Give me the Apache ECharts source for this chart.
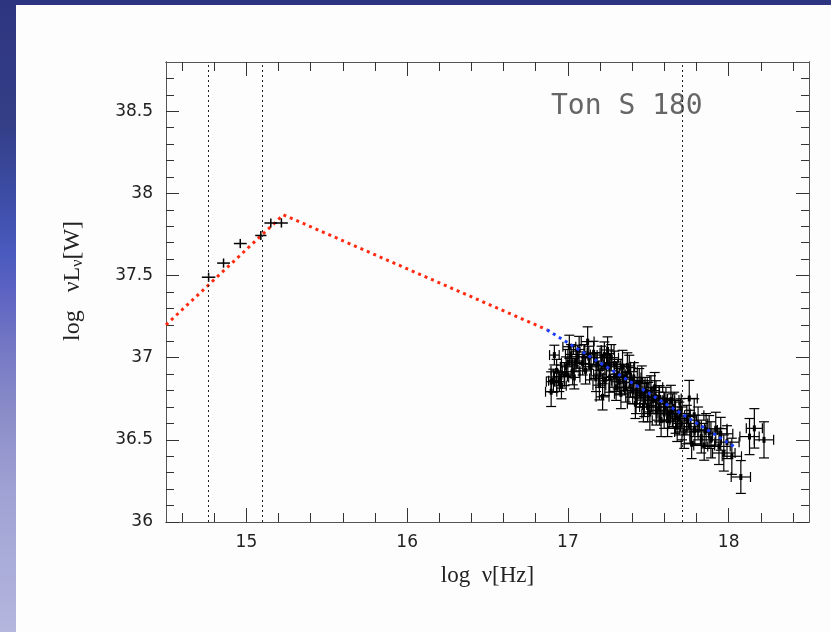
<!DOCTYPE html>
<html>
<head>
<meta charset="utf-8">
<script src="https://cdn.jsdelivr.net/npm/echarts@6/dist/echarts.min.js"></script>
<style>
html,body{margin:0;padding:0;width:831px;height:632px;overflow:hidden;background:#fdfdfd;}
#topbar{position:absolute;left:0;top:0;width:831px;height:5px;background:#2e3580;}
#leftbar{position:absolute;left:0;top:0;width:16px;height:632px;
background:linear-gradient(to bottom,#2e3580 0%,#343f88 20%,#3e4ea8 32%,#4a5abe 40%,#5c63c2 46%,#7478c4 55%,#8a8cc8 65%,#a0a2d4 78%,#b4b6de 100%);}
#chart{position:absolute;left:0;top:0;width:831px;height:632px;}
</style>
</head>
<body>
<div id="topbar"></div>
<div id="leftbar"></div>
<div id="chart"></div>
<script>
// ---- tick values ----
const xMajorTicks = [15, 16, 17, 18];
const xMinorTicks = [14.6, 14.8, 15.2, 15.4, 15.6, 15.8, 16.2, 16.4, 16.6, 16.8, 17.2, 17.4, 17.6, 17.8, 18.2, 18.4];
const yMajorTicks = [36, 36.5, 37, 37.5, 38, 38.5];
const yMinorTicks = [36.1, 36.2, 36.3, 36.4, 36.6, 36.7, 36.8, 36.9, 37.1, 37.2, 37.3, 37.4, 37.6, 37.7, 37.8, 37.9, 38.1, 38.2, 38.3, 38.4, 38.6, 38.7];

// ---- vertical reference lines ----
const vLines = [14.76, 15.1, 17.71];

// ---- model lines ----
const redX = [14.5, 15.23, 16.87];
const redY = [37.2, 37.87, 37.17];
const blueX = [16.87, 18.05];
const blueY = [37.17, 36.45];

// ---- optical/UV points ----
const optX  = [14.765, 14.858, 14.962, 15.09, 15.152, 15.218];
const optY  = [37.49, 37.576, 37.695, 37.744, 37.82, 37.82];
const optEx = [0.042, 0.04, 0.04, 0.035, 0.04, 0.04];
const optEy = [0.028, 0.028, 0.028, 0.028, 0.028, 0.028];

// ---- X-ray points ----
const xrX = [16.896,16.896,16.91,16.916,16.93,16.947,16.957,16.96,16.98,16.989,17.00,17.009,17.02,17.03,17.04,17.05,17.061,17.07,17.092,17.10,17.11,17.123,17.13,17.144,17.16,17.175,17.18,17.196,17.20,17.21,17.216,17.227,17.23,17.24,17.247,17.258,17.26,17.27,17.289,17.29,17.30,17.31,17.32,17.33,17.34,17.35,17.36,17.37,17.382,17.39,17.403,17.41,17.42,17.424,17.43,17.444,17.45,17.46,17.47,17.475,17.48,17.496,17.50,17.51,17.517,17.53,17.54,17.548,17.55,17.568,17.57,17.58,17.599,17.60,17.61,17.62,17.63,17.641,17.65,17.661,17.67,17.68,17.693,17.70,17.71,17.724,17.74,17.755,17.76,17.77,17.786,17.79,17.81,17.83,17.848,17.86,17.879,17.89,17.92,17.94,17.951,17.97,17.99,18.02,18.076,18.13,18.16,18.22];
const xrY = [36.854,36.793,36.86,37.016,36.92,36.854,36.885,36.83,36.90,36.945,36.97,37.067,37.02,36.915,36.88,36.98,37.006,37.05,36.965,37.02,36.92,37.098,37.00,36.945,37.03,36.874,36.96,36.833,36.90,37.00,36.762,37.016,36.86,36.95,37.047,36.945,36.88,37.00,36.885,36.96,36.82,36.90,36.854,36.78,36.945,36.88,36.82,36.95,36.915,36.85,36.80,36.88,36.72,36.76,36.80,36.844,36.78,36.86,36.70,36.742,36.80,36.70,36.76,36.66,36.80,36.74,36.82,36.76,36.68,36.70,36.75,36.62,36.66,36.70,36.74,36.62,36.66,36.742,36.68,36.70,36.64,36.58,36.63,36.66,36.60,36.548,36.62,36.752,36.58,36.476,36.65,36.56,36.60,36.52,36.466,36.56,36.548,36.50,36.568,36.46,36.537,36.42,36.486,36.40,36.274,36.52,36.57,36.50];
const xrEx = [0.03,0.035,0.03,0.03,0.035,0.03,0.04,0.03,0.04,0.035,0.04,0.04,0.035,0.04,0.035,0.04,0.04,0.035,0.04,0.04,0.035,0.04,0.04,0.045,0.04,0.04,0.045,0.04,0.04,0.045,0.04,0.045,0.04,0.05,0.04,0.045,0.04,0.045,0.05,0.04,0.045,0.05,0.045,0.04,0.05,0.045,0.05,0.045,0.05,0.045,0.05,0.045,0.05,0.045,0.05,0.05,0.045,0.05,0.05,0.045,0.05,0.05,0.045,0.05,0.05,0.045,0.05,0.05,0.045,0.05,0.05,0.055,0.05,0.05,0.055,0.05,0.055,0.05,0.055,0.05,0.055,0.06,0.055,0.06,0.055,0.06,0.06,0.05,0.06,0.065,0.06,0.065,0.06,0.07,0.065,0.07,0.07,0.065,0.07,0.07,0.075,0.07,0.075,0.06,0.06,0.06,0.05,0.06];
const xrEy = [0.06,0.09,0.07,0.06,0.07,0.06,0.07,0.08,0.07,0.06,0.08,0.07,0.06,0.08,0.07,0.06,0.07,0.08,0.07,0.06,0.08,0.09,0.07,0.08,0.07,0.08,0.07,0.09,0.08,0.07,0.08,0.08,0.09,0.07,0.08,0.08,0.09,0.08,0.09,0.08,0.08,0.09,0.08,0.09,0.10,0.08,0.09,0.08,0.10,0.09,0.08,0.09,0.09,0.10,0.08,0.09,0.08,0.09,0.09,0.10,0.08,0.09,0.09,0.10,0.09,0.08,0.09,0.10,0.09,0.09,0.08,0.10,0.09,0.09,0.08,0.10,0.09,0.09,0.10,0.09,0.10,0.09,0.10,0.09,0.10,0.10,0.09,0.11,0.10,0.09,0.10,0.09,0.10,0.10,0.09,0.10,0.10,0.11,0.10,0.11,0.10,0.11,0.10,0.11,0.10,0.11,0.12,0.11];

const optData = optX.map((x, i) => [x, optY[i], optEx[i], optEy[i]]);
const xrData = xrX.map((x, i) => [x, xrY[i], xrEx[i], xrEy[i]]);
const redData = redX.map((x, i) => [x, redY[i]]);
const blueData = blueX.map((x, i) => [x, blueY[i]]);

function errRender(caps, dot, lw) {
  return function (params, api) {
    const x = api.value(0), y = api.value(1), ex = api.value(2), ey = api.value(3);
    const c = api.coord([x, y]);
    const l = api.coord([x - ex, y]), r = api.coord([x + ex, y]);
    const t = api.coord([x, y + ey]), b = api.coord([x, y - ey]);
    const st = { stroke: '#000', lineWidth: lw };
    const ch = [
      { type: 'line', shape: { x1: l[0], y1: c[1], x2: r[0], y2: c[1] }, style: st },
      { type: 'line', shape: { x1: c[0], y1: t[1], x2: c[0], y2: b[1] }, style: st }
    ];
    if (caps) {
      const h = 5;
      ch.push({ type: 'line', shape: { x1: l[0], y1: c[1] - h, x2: l[0], y2: c[1] + h }, style: st });
      ch.push({ type: 'line', shape: { x1: r[0], y1: c[1] - h, x2: r[0], y2: c[1] + h }, style: st });
      ch.push({ type: 'line', shape: { x1: c[0] - h, y1: t[1], x2: c[0] + h, y2: t[1] }, style: st });
      ch.push({ type: 'line', shape: { x1: c[0] - h, y1: b[1], x2: c[0] + h, y2: b[1] }, style: st });
    }
    if (dot) {
      ch.push({ type: 'rect', shape: { x: c[0] - 1.5, y: c[1] - 3, width: 3, height: 6 }, style: { fill: '#000' } });
    }
    return { type: 'group', children: ch };
  };
}

const tickColor = '#333';
const labelStyle = { fontFamily: 'DejaVu Sans', fontSize: 17, color: '#222' };

function xAx(pos, ticks, len, labels, extra) {
  return Object.assign({
    type: 'value', min: 14.5, max: 18.5, position: pos,
    axisLine: { show: true, lineStyle: { color: '#555', width: 1 } },
    axisTick: { show: true, inside: true, length: len, customValues: ticks, lineStyle: { color: tickColor, width: 1 } },
    axisLabel: labels ? Object.assign({ show: true, customValues: ticks, margin: 12 }, labelStyle) : { show: false },
    splitLine: { show: false }
  }, extra || {});
}
function yAx(pos, ticks, len, labels, extra) {
  return Object.assign({
    type: 'value', min: 36, max: 38.8, position: pos,
    axisLine: { show: true, lineStyle: { color: '#555', width: 1 } },
    axisTick: { show: true, inside: true, length: len, customValues: ticks, lineStyle: { color: tickColor, width: 1 } },
    axisLabel: labels ? Object.assign({ show: true, customValues: ticks, margin: 13 }, labelStyle) : { show: false },
    splitLine: { show: false }
  }, extra || {});
}

const chart = echarts.init(document.getElementById('chart'), null, { renderer: 'canvas' });
chart.setOption({
  backgroundColor: 'transparent',
  animation: false,
  grid: { left: 166, right: 22, top: 62, bottom: 110 },
  xAxis: [
    xAx('bottom', xMajorTicks, 14, true, {
      name: 'log  ν[Hz]', nameLocation: 'middle', nameGap: 42,
      nameTextStyle: { fontFamily: 'Liberation Serif', fontSize: 23, color: '#222' }
    }),
    xAx('bottom', xMinorTicks, 9, false),
    xAx('top', xMajorTicks, 14, false),
    xAx('top', xMinorTicks, 9, false)
  ],
  yAxis: [
    yAx('left', yMajorTicks, 13, true, {
      name: '{a|log   νL}{s|ν}{a|[W]}', nameLocation: 'middle', nameGap: 80,
      nameTextStyle: {
        padding: [0, 0, 0, 22],
        rich: {
          a: { fontFamily: 'Liberation Serif', fontSize: 24, color: '#222' },
          s: { fontFamily: 'Liberation Serif', fontSize: 16, color: '#222', verticalAlign: 'bottom', padding: [11, 0, 0, 0] }
        }
      }
    }),
    yAx('left', yMinorTicks, 8, false),
    yAx('right', yMajorTicks, 13, false),
    yAx('right', yMinorTicks, 8, false)
  ],
  graphic: [
    { type: 'text', left: 551, top: 93, style: { text: 'Ton S 180', font: '28px "DejaVu Sans Mono"', fill: '#666' } }
  ],
  series: [
    {
      type: 'line', xAxisIndex: 0, yAxisIndex: 0, data: [], silent: true,
      markLine: {
        silent: true, symbol: ['none', 'none'], label: { show: false },
        lineStyle: { color: '#222', width: 1, type: [2, 3] },
        data: vLines.map(v => ({ xAxis: v }))
      }
    },
    {
      type: 'line', xAxisIndex: 0, yAxisIndex: 0, data: redData, showSymbol: false, symbol: 'none',
      lineStyle: { color: '#ff2a10', width: 3, type: [3, 4] }, z: 3
    },
    {
      type: 'custom', xAxisIndex: 0, yAxisIndex: 0, data: optData, renderItem: errRender(false, false, 1.5),
      encode: { x: 0, y: 1 }, z: 4
    },
    {
      type: 'custom', xAxisIndex: 0, yAxisIndex: 0, data: xrData, renderItem: errRender(true, true, 1.2),
      encode: { x: 0, y: 1 }, z: 4, clip: true
    },
    {
      type: 'line', xAxisIndex: 0, yAxisIndex: 0, data: blueData, showSymbol: false, symbol: 'none',
      lineStyle: { color: '#1a3cff', width: 3, type: [3, 4] }, z: 5
    }
  ]
});
</script>
</body>
</html>
